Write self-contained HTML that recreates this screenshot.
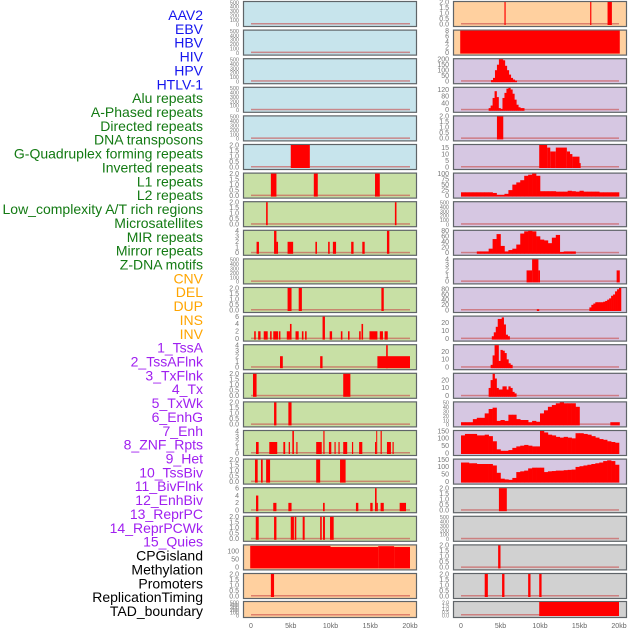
<!DOCTYPE html>
<html><head><meta charset="utf-8"><style>
html,body{margin:0;padding:0;background:#fff;width:630px;height:630px;overflow:hidden}
svg{display:block;font-family:"Liberation Sans",sans-serif}
</style></head><body>
<svg id="chart" width="630" height="630" viewBox="0 0 630 630" xmlns="http://www.w3.org/2000/svg"></svg>
<script>
// ---------- data ----------
const trackLabels = ["AAV2","EBV","HBV","HIV","HPV","HTLV-1","Alu repeats","A-Phased repeats","Directed repeats","DNA transposons","G-Quadruplex forming repeats","Inverted repeats","L1 repeats","L2 repeats","Low_complexity A/T rich regions","Microsatellites","MIR repeats","Mirror repeats","Z-DNA motifs","CNV","DEL","DUP","INS","INV","1_TssA","2_TssAFlnk","3_TxFlnk","4_Tx","5_TxWk","6_EnhG","7_Enh","8_ZNF_Rpts","9_Het","10_TssBiv","11_BivFlnk","12_EnhBiv","13_ReprPC","14_ReprPCWk","15_Quies","CPGisland","Methylation","Promoters","ReplicationTiming","TAD_boundary"];
const labelColors = ["#1515ee","#1515ee","#1515ee","#1515ee","#1515ee","#1515ee","#137a13","#137a13","#137a13","#137a13","#137a13","#137a13","#137a13","#137a13","#137a13","#137a13","#137a13","#137a13","#137a13","#ffa500","#ffa500","#ffa500","#ffa500","#ffa500","#a020f0","#a020f0","#a020f0","#a020f0","#a020f0","#a020f0","#a020f0","#a020f0","#a020f0","#a020f0","#a020f0","#a020f0","#a020f0","#a020f0","#a020f0","#000","#000","#000","#000","#000"];
const xTickValues = [0,5,10,15,20];
const xTickLabels = ["0","5kb","10kb","15kb","20kb"];
const T500 = [0,100,200,300,400,500], T2 = [0,0.5,1,1.5,2];
const midBg = ["b","b","b","b","b","b","g","g","g","g","g","g","g","g","g","g","g","g","g","o","o","o"];
const rightBg = ["o","o","p","p","p","p","p","p","p","p","p","p","p","p","p","p","p","g2","g2","g2","g2","g2"];
const midTicks = [T500,T500,T500,T500,T500,T2,T2,T2,[0,1,2,3,4],T500,T2,[0,2,4,6],[0,1,2,3,4],T2,T2,[0,1,2,3,4],T2,[0,2,4,6],T2,[0,50,100],T2,T500];
const midMax = [500,500,500,500,500,2,2,2,4,500,2,6,4,2,2,4,2,6,2,135,2,500];
const rightTicks = [T2,[0,2,4,6,8],[0,50,100,150,200],[0,40,80,120],T2,[0,5,10,15],[0,25,50,75,100],T500,[0,20,40,60,80],[0,1,2,3,4],[0,20,40,60,80],[0,10,20],[0,10,20],[0,10,20],[0,10,20,30,40,50],[0,50,100,150],[0,50,100,150],T2,T500,T2,T2,T2];
const rightMax = [2,8,200,130,2,17,100,500,80,4,85,28,28,28,50,150,150,2,500,2,2,2];
// bar segments [startKb, endKb, value]
const midSegments = [
 [],[],[],[],[],
 [[5.0,7.4,2]],
 [[2.5,3.2,2],[7.9,8.4,2],[15.6,16.2,2]],
 [[1.9,2.1,2],[18.1,18.3,2]],
 [[0.7,1.0,2],[2.9,3.2,4],[3.2,3.4,2],[4.6,5.3,2],[8.1,8.3,2],[9.7,9.9,2],[10.3,10.7,2],[12.6,12.9,2],[14.0,14.3,2],[17.1,17.4,4]],
 [],
 [[4.6,5.1,2],[6.0,6.4,2],[16.4,16.7,2]],
 [[0.4,0.6,2],[0.9,1.2,2],[1.6,2.1,2],[2.4,2.6,2],[2.8,3.4,2],[3.5,3.7,2],[4.5,4.9,2],[4.9,5.1,4],[5.6,6.0,2],[6.4,6.6,2],[6.8,7.0,2],[9.0,9.3,6],[9.9,10.2,2],[11.3,11.5,2],[12.2,12.4,2],[13.6,13.8,2],[13.9,14.1,4],[14.9,15.9,2],[16.2,16.6,2],[16.8,17.2,2]],
 [[3.65,4.0,2],[8.7,9.0,2],[15.9,20.0,2],[17.0,17.2,4]],
 [[0.25,0.7,2],[11.6,12.5,2]],
 [[2.9,3.2,2],[4.7,5.1,2]],
 [[0.63,0.96,2],[2.3,3.3,2],[4.07,4.3,2],[4.74,4.9,2],[5.2,5.4,4],[5.7,5.85,2],[8.2,8.9,2],[9.1,9.25,4],[9.8,10.1,2],[10.5,10.65,2],[11.0,11.15,2],[11.6,12.1,2],[12.7,12.85,2],[13.6,14.0,2],[15.6,15.75,2],[15.75,15.85,4],[16.3,16.45,4],[17.1,17.6,2],[17.8,17.95,2]],
 [[0.5,0.84,2],[1.26,1.47,2],[1.9,2.4,2],[8.2,8.7,2],[11.2,11.9,2]],
 [[0.63,0.92,4],[2.8,3.2,2],[4.7,5.1,2],[9.06,9.27,2],[13.2,13.5,2],[15.0,15.3,2],[15.6,15.8,6],[15.8,15.95,2],[16.3,16.7,2],[18.7,19.5,2]],
 [[0.6,0.97,2],[2.9,3.2,2],[5.0,5.4,2],[5.5,5.7,2],[6.5,6.75,2],[8.7,8.9,2],[9.06,9.3,2],[9.94,10.4,2]],
 [[-0.1,10,132],[10,16,125],[16,18,130],[18,20,125]],
 [[2.5,2.9,2]],
 []
];
const rightSegments = [
 [[5.5,5.65,2],[16.35,16.5,2],[18.55,19.1,2]],
 [[-0.1,20.1,8]],
 [],[],
 [[4.55,5.35,2]],
 [[9.9,10.9,17],[10.9,11.3,15],[11.3,12.0,12],[12.0,13.4,15],[13.4,13.8,12],[13.8,14.1,10],[14.1,15.0,8],[15.0,15.15,3]],
 [],[],[],
 [[8.3,9.0,2],[9.0,9.8,4],[9.8,10.0,2],[19.7,20.1,2]],
 [[9.6,9.9,3]],
 [],[],[],
 [[18.9,20.1,5]],
 [],[],
 [[4.8,5.8,2]],
 [],
 [[4.7,5.0,2]],
 [[3.0,3.4,2],[5.2,5.5,2],[8.5,8.8,2],[9.9,10.2,2]],
 [[9.9,20.0,2]]
];
// profile tracks: [rowIndex, startKb, stepKb, values]
const profileRows = [2,3,6,8,10,11,12,13,14,15,16];
const profileStarts = [3.8,3.5,0,2.0,16.25,3.9,3.75,3.5,0,0,0];
const profileSteps = [0.25,0.25,0.5,0.5,0.25,0.25,0.25,0.25,0.5,0.5,0.5];
const profileHIV = [10,30,100,150,200,200,190,140,100,60,30,15,5];
const profileHPV = [10,25,70,110,75,10,5,70,100,125,130,120,95,60,30,15,10,10];
const profileL1 = [15,15,15,15,15,15,15,15,12,3,3,8,25,50,60,70,90,95,100,90,20,20,20,20,18,18,18,22,20,18,22,18,18,18,18,15,15,15,15,15];
const profileMIR = [5,5,5,15,50,68,25,5,10,15,30,70,78,80,78,60,48,45,35,55,65,3,5,5,5];
const profileDEL = [10,20,25,30,30,30,30,32,35,40,45,55,60,72,80,85];
const profileINS = [3,8,15,25,25,27,18,5,3];
const profileTssA = [3,15,28,28,8,22,21,18,10,5,3];
const profileTssAFlnk = [10,20,28,22,10,8,8,12,12,8,12,10,5,3];
const profileTxWk = [5,5,5,12,15,15,25,35,38,8,10,8,22,22,12,10,10,5,8,6,25,32,40,44,48,50,48,48,48,40];
const profileEnhG = [120,130,130,130,120,120,125,115,80,25,15,15,20,35,45,50,55,50,45,45,150,140,125,120,110,105,110,105,100,135,135,130,125,115,105,95,90,80,75,70];
const profileEnh = [130,130,125,125,120,120,120,120,110,60,20,15,12,25,65,70,75,90,95,95,95,65,70,72,75,75,78,80,82,100,105,110,115,120,125,130,140,145,140,115];
const profileValues = [profileHIV,profileHPV,profileL1,profileMIR,profileDEL,profileINS,profileTssA,profileTssAFlnk,profileTxWk,profileEnhG,profileEnh];

// ---------- layout ----------
const NS="http://www.w3.org/2000/svg";
const svg=document.getElementById('chart');
const bgColors={b:"#c7e4ec",g:"#c8e0a5",o:"#ffd09f",p:"#d6c7e2",g2:"#d1d1d1"};
const cols=[{x0:243,x1:416,zero:251,k:7.95,bg:midBg,ticks:midTicks,max:midMax,segs:midSegments,name:'left'},
            {x0:453,x1:626,zero:461,k:7.9,bg:rightBg,ticks:rightTicks,max:rightMax,segs:rightSegments,name:'right'}];
function el(tag,attrs,parent){const e=document.createElementNS(NS,tag);for(const a in attrs)e.setAttribute(a,attrs[a]);(parent||svg).appendChild(e);return e;}
function rowTop(i){return i<21?1+i*28.6:601;}
function rowH(i){return i<21?25:16;}

// labels
trackLabels.forEach((t,i)=>{
  const e=el('text',{x:203,y:15+i*13.86+5,'text-anchor':'end','font-size':14,fill:labelColors[i]});
  e.textContent=t;
  
  
});

cols.forEach((c,ci)=>{
  const xs=kb=>c.zero+kb*c.k;
  for(let i=0;i<22;i++){
    const top=rowTop(i),h=rowH(i),bot=top+h-2,maxV=c.max[i];
    const ys=v=>bot-(v/maxV)*(h-3);
    const g=el('g',{});
    
    
    el('rect',{x:c.x0+0.5,y:top+0.5,width:c.x1-c.x0,height:h,fill:bgColors[c.bg[i]],stroke:'#5f6468','stroke-width':1.2},g);
    // ticks
    const tk=c.ticks[i];
    const fs=tk.length>5?5.5:(h<20?5:7);
    tk.forEach(v=>{
      const t=el('text',{x:c.x0-4,y:ys(v)+2.3,'text-anchor':'end','font-size':fs,fill:'#777'},g);
      t.textContent=String(v===0&&tk[1]===0.5?"0.0":(tk[1]===0.5&&Number.isInteger(v)?v.toFixed(1):v));
      
      
    });
    // baseline
    el('rect',{x:xs(0),y:bot-1,width:xs(20)-xs(0),height:1.5,fill:'#c84a4a',opacity:0.6},g);
    // segments
    c.segs[i].forEach(s=>{
      const r=el('rect',{x:xs(s[0]),y:ys(s[2]),width:Math.max(1,xs(s[1])-xs(s[0])),height:bot-ys(s[2])+1,fill:'#ff0000'},g);
      
      
    });
    if(ci===1){
      const pi=profileRows.indexOf(i);
      if(pi>=0){
        const vals=profileValues[pi],st=profileStarts[pi],sp=profileSteps[pi];
        vals.forEach((v,j)=>{
          const a=st+j*sp;
          const r=el('rect',{x:xs(a),y:ys(v),width:xs(a+sp)-xs(a)+0.3,height:bot-ys(v)+1,fill:'#ff0000'},g);
          
          
        });
      }
    }
  }
  xTickValues.forEach((v,j)=>{
    const t=el('text',{x:xs(v),y:628,'text-anchor':'middle','font-size':7,fill:'#666'});
    t.textContent=xTickLabels[j];
    
    
  });
});
</script>
</body></html>
